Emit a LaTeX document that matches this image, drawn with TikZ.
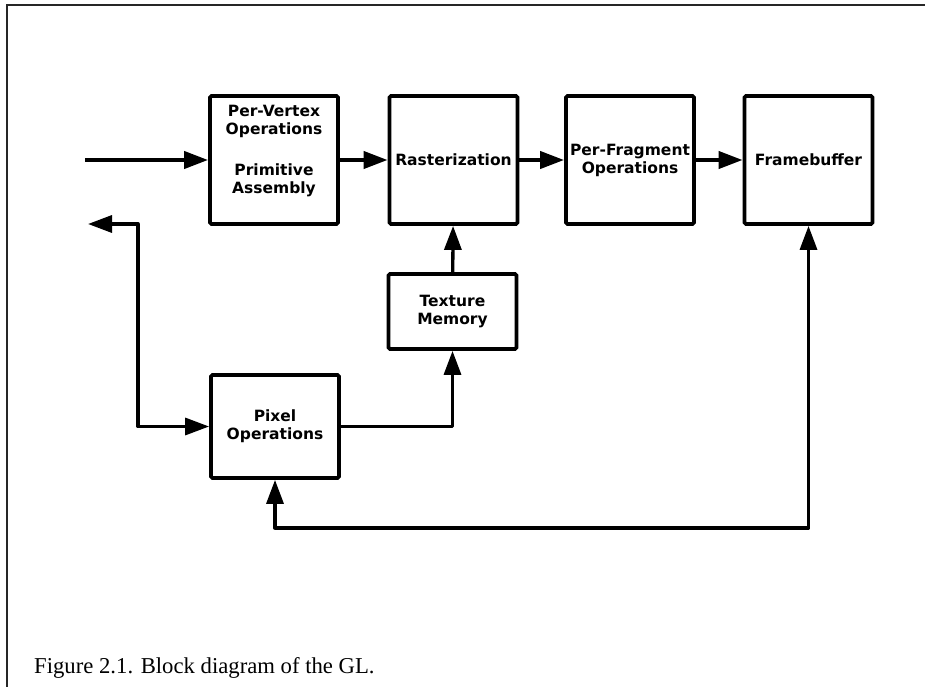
\documentclass[tikz,border=0pt]{standalone}
\usepackage{fontspec}
\setmainfont{Liberation Serif}
\newfontfamily\cajafont{DejaVu Sans}
\usetikzlibrary{arrows.meta, positioning}
\tikzset{
  bloque/.style={rectangle, rounded corners=1.5pt, draw=black, line width=3.8pt,
                 minimum width=128pt, minimum height=128pt, inner sep=0pt,
                 text centered, align=center, font=\cajafont\bfseries\fontsize{15.5}{18}\selectfont},
  rotulo/.style={inner sep=0pt, align=center, font=\cajafont\bfseries\fontsize{15.5}{18}\selectfont},
  flecha/.style={line width=4pt, -{Triangle[length=24pt, width=17pt]}, line join=round},
  enlace/.style={line width=3.3pt, -{Triangle[length=24pt, width=17pt]}, line join=round},
  doble/.style={line width=3.3pt, {Triangle[length=24pt, width=17pt]}-{Triangle[length=24pt, width=17pt]}, line join=round},
  marco/.style={line width=1.4pt, draw=black!85}
}
\begin{document}
\begin{tikzpicture}[x=1pt, y=-1pt]
  \useasboundingbox (0,0) rectangle (925,687);
  % page frame, top and left
  \draw [marco] (925,5) -- (7,5) -- (7,687);

  % pipeline
  \node (pv) [bloque] at (274,160) {};
  \node (pvtxt) [rotulo] at (274,151) {Per-Vertex\\Operations\\[23pt]Primitive\\Assembly};
  \node (ras) [bloque] at (453.5,160) {Rasterization};
  \node (frag) [bloque] at (630,160) {Per-Fragment\\Operations};
  \node (fb) [bloque] at (808.5,160) {Framebuffer};
  \node (tex) [bloque, minimum height=75pt] at (452.5,311.5) {Texture\\Memory};
  \node (pix) [bloque, minimum height=103pt] at (275,426.5) {Pixel\\Operations};

  \coordinate (entrada) at (85,160);
  \coordinate (salida) at (88,224);
  \coordinate (esquina) at (138,330);
  \coordinate (abajo) at (540,528);

  \draw [flecha] (entrada) -- (pv);
  \draw [flecha] (pv) -- (ras);
  \draw [flecha] (ras) -- (frag);
  \draw [flecha] (frag) -- (fb);
  \draw [enlace] (tex) -- (ras);
  \draw [enlace] (pix) -| (tex);
  \draw [doble] (salida) -| (esquina) |- (pix);
  \draw [doble] (pix) |- (abajo) -| (fb);

  \node (pie) [anchor=base west, inner sep=0pt, font=\fontsize{22.7}{27}\selectfont] at (34,673) {Figure 2.1. Block diagram of the GL.};
\end{tikzpicture}
\end{document}
